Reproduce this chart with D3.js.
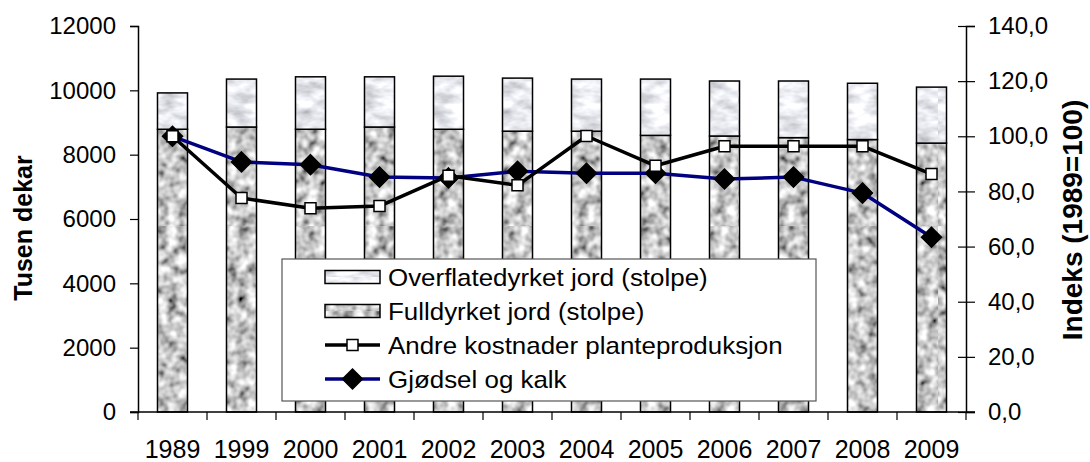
<!DOCTYPE html>
<html>
<head>
<meta charset="utf-8">
<script src="https://cdn.jsdelivr.net/npm/d3@7"></script>
<style>
  body { margin: 0; background: #fff; }
  svg { display: block; font-family: "Liberation Sans", Arial, sans-serif; }
</style>
</head>
<body>
<div id="area"></div>
<script>
var years = ["1989", "1999", "2000", "2001", "2002", "2003", "2004", "2005", "2006", "2007", "2008", "2009"];
// tusen dekar
var fulldyrket = [8790, 8860, 8790, 8860, 8790, 8730, 8730, 8600, 8580, 8530, 8470, 8360];
var overflatedyrket = [1130, 1490, 1630, 1560, 1650, 1650, 1620, 1750, 1710, 1760, 1750, 1740];
// indeks 1989=100
var andreKostnader = [100, 77.6, 73.9, 74.7, 85.7, 82.2, 100.1, 89.3, 96.4, 96.4, 96.4, 86.3];
var gjodselKalk = [100, 90.7, 89.7, 85.2, 84.9, 87.3, 86.6, 86.6, 84.5, 85.2, 79.4, 63.4];
var leftTicks = [0, 2000, 4000, 6000, 8000, 10000, 12000];
var rightTicks = [0, 20, 40, 60, 80, 100, 120, 140];
var legendLabels = ["Overflatedyrket jord (stolpe)", "Fulldyrket jord (stolpe)",
  "Andre kostnader planteproduksjon", "Gjødsel og kalk"];

var width = 1090, height = 462,
  margin = { top: 26, right: 124, bottom: 50, left: 138 },
  w = width - margin.left - margin.right,
  h = height - margin.top - margin.bottom;

var svg = d3.select("#area").append("svg")
  .attr("width", width)
  .attr("height", height);

// textures for the bars
var defs = svg.append("defs");
var fGran = defs.append("filter").attr("id", "granNoise")
  .attr("x", 0).attr("y", 0).attr("width", "100%").attr("height", "100%");
fGran.append("feTurbulence").attr("type", "fractalNoise")
  .attr("baseFrequency", "0.1").attr("numOctaves", 2).attr("seed", 4);
fGran.append("feColorMatrix").attr("type", "matrix")
  .attr("values", "1.6 0 0 0 -0.22  1.6 0 0 0 -0.22  1.6 0 0 0 -0.22  0 0 0 0 1");
var fMarble = defs.append("filter").attr("id", "marbleNoise")
  .attr("x", 0).attr("y", 0).attr("width", "100%").attr("height", "100%");
fMarble.append("feTurbulence").attr("type", "fractalNoise")
  .attr("baseFrequency", "0.045 0.09").attr("numOctaves", 3).attr("seed", 7);
fMarble.append("feColorMatrix").attr("type", "matrix")
  .attr("values", "1.1 0 0 0 0.27  1.1 0 0 0 0.28  1.1 0 0 0 0.32  0 0 0 0 1");

[["granite", "granNoise"], ["marble", "marbleNoise"]].forEach(function (p) {
  defs.append("pattern").attr("id", p[0])
    .attr("patternUnits", "userSpaceOnUse")
    .attr("width", 200).attr("height", 200)
    .append("rect").attr("width", 200).attr("height", 200)
    .attr("filter", "url(#" + p[1] + ")");
});

var g = svg.append("g")
  .attr("transform", "translate(" + margin.left + "," + margin.top + ")");

var x = d3.scaleBand().domain(years).range([0, w])
  .paddingInner(0.565).paddingOuter(0.2825);
var xEdge = d3.scaleLinear().domain([0, years.length]).range([0, w]);
var yL = d3.scaleLinear().domain([0, 12000]).range([h, 0]);
var yR = d3.scaleLinear().domain([0, 140]).range([h, 0]);

// stacked bars
var stackData = years.map(function (yr, i) {
  return { year: yr, full: fulldyrket[i], over: overflatedyrket[i] };
});
var stacked = d3.stack().keys(["full", "over"])(stackData);
var fills = { full: "url(#granite)", over: "url(#marble)" };

g.selectAll(".layer")
  .data(stacked)
  .enter().append("g")
  .attr("class", "layer")
  .attr("fill", function (d) { return fills[d.key]; })
  .selectAll("rect")
  .data(function (d) { return d; })
  .enter().append("rect")
  .attr("x", function (d) { return x(d.data.year); })
  .attr("y", function (d) { return yL(d[1]); })
  .attr("width", x.bandwidth())
  .attr("height", function (d) { return yL(d[0]) - yL(d[1]); })
  .attr("stroke", "#000")
  .attr("stroke-width", 1.5);

// axes
var fontSize = 24;
var axL = g.append("g").call(d3.axisLeft(yL).tickValues(leftTicks)
  .tickFormat(d3.format("d"))
  .tickSizeOuter(0).tickSize(8).tickPadding(14));
var axR = g.append("g").attr("transform", "translate(" + w + ",0)")
  .call(d3.axisRight(yR).tickValues(rightTicks)
    .tickFormat(function (d) { return d3.format(".1f")(d).replace(".", ","); })
    .tickSizeOuter(0).tickSize(9).tickPadding(13));
axR.selectAll(".tick line").attr("x1", -8);

var axB = g.append("g").attr("transform", "translate(0," + h + ")");
axB.append("line").attr("x1", -8).attr("x2", w + 9)
  .attr("stroke", "#000").attr("stroke-width", 1.5);
axB.selectAll(".xt")
  .data(d3.range(years.length + 1))
  .enter().append("line")
  .attr("class", "xt")
  .attr("x1", function (d) { return xEdge(d); })
  .attr("x2", function (d) { return xEdge(d); })
  .attr("y1", 0).attr("y2", 8)
  .attr("stroke", "#000").attr("stroke-width", 1.2);
axB.selectAll(".xl")
  .data(years)
  .enter().append("text")
  .attr("class", "xl")
  .attr("x", function (d) { return x(d) + x.bandwidth() / 2; })
  .attr("y", 46)
  .attr("text-anchor", "middle")
  .attr("font-size", 25)
  .text(function (d) { return d; });

[axL, axR].forEach(function (a) {
  a.selectAll(".domain").attr("stroke", "#000").attr("stroke-width", 1.5);
  a.selectAll(".tick line").attr("stroke", "#000").attr("stroke-width", 1.2);
  a.selectAll(".tick text").attr("font-size", fontSize).attr("fill", "#000");
  a.attr("font-family", null);
});

// lines
function drawSeries(values, color, marker) {
  var line = d3.line()
    .x(function (d, i) { return x(years[i]) + x.bandwidth() / 2; })
    .y(function (d) { return yR(d); });
  g.append("path").datum(values)
    .attr("d", line)
    .attr("fill", "none")
    .attr("stroke", color)
    .attr("stroke-width", 3.5)
    .attr("stroke-linejoin", "round");
  g.selectAll(".m-" + marker)
    .data(values)
    .enter().append("path")
    .attr("class", "m-" + marker)
    .attr("transform", function (d, i) {
      return "translate(" + (x(years[i]) + x.bandwidth() / 2) + "," + yR(d) + ")";
    })
    .attr("d", markerPath(marker))
    .attr("fill", marker === "square" ? "#fff" : "#000")
    .attr("stroke", "#000")
    .attr("stroke-width", 1.5);
}
function markerPath(type) {
  if (type === "square") return "M-5.5,-5.5H5.5V5.5H-5.5Z";
  return "M0,-10L10,0L0,10L-10,0Z";
}
drawSeries(gjodselKalk, "#000080", "diamond");
drawSeries(andreKostnader, "#000", "square");

// axis titles
svg.append("text")
  .attr("transform", "translate(32,228) rotate(-90)")
  .attr("text-anchor", "middle")
  .attr("font-size", 25).attr("font-weight", "bold")
  .text("Tusen dekar");
svg.append("text")
  .attr("transform", "translate(1082,220) rotate(-90)")
  .attr("text-anchor", "middle")
  .attr("font-size", 28).attr("font-weight", "bold")
  .text("Indeks (1989=100)");

// legend
var lg = svg.append("g").attr("transform", "translate(282,259)");
lg.append("rect").attr("width", 534).attr("height", 142)
  .attr("fill", "#fff").attr("stroke", "#555").attr("stroke-width", 1.2);
var rows = lg.selectAll(".row").data(legendLabels).enter().append("g")
  .attr("class", "row")
  .attr("transform", function (d, i) { return "translate(43," + (18 + i * 34) + ")"; });
rows.each(function (d, i) {
  var r = d3.select(this);
  if (i < 2) {
    r.append("rect").attr("x", 0).attr("y", -6.5).attr("width", 55).attr("height", 13)
      .attr("fill", i === 0 ? "url(#marble)" : "url(#granite)")
      .attr("stroke", "#000").attr("stroke-width", 1.5);
  } else {
    r.append("line").attr("x1", 0).attr("x2", 55)
      .attr("stroke", i === 2 ? "#000" : "#000080").attr("stroke-width", 3.5);
    r.append("path").attr("transform", "translate(27.5,0)")
      .attr("d", markerPath(i === 2 ? "square" : "diamond"))
      .attr("fill", i === 2 ? "#fff" : "#000")
      .attr("stroke", "#000").attr("stroke-width", 1.5);
  }
  r.append("text")
    .attr("transform", "translate(63,9) scale(1.08,1)")
    .attr("font-size", 24)
    .text(d);
});
</script>
</body>
</html>
